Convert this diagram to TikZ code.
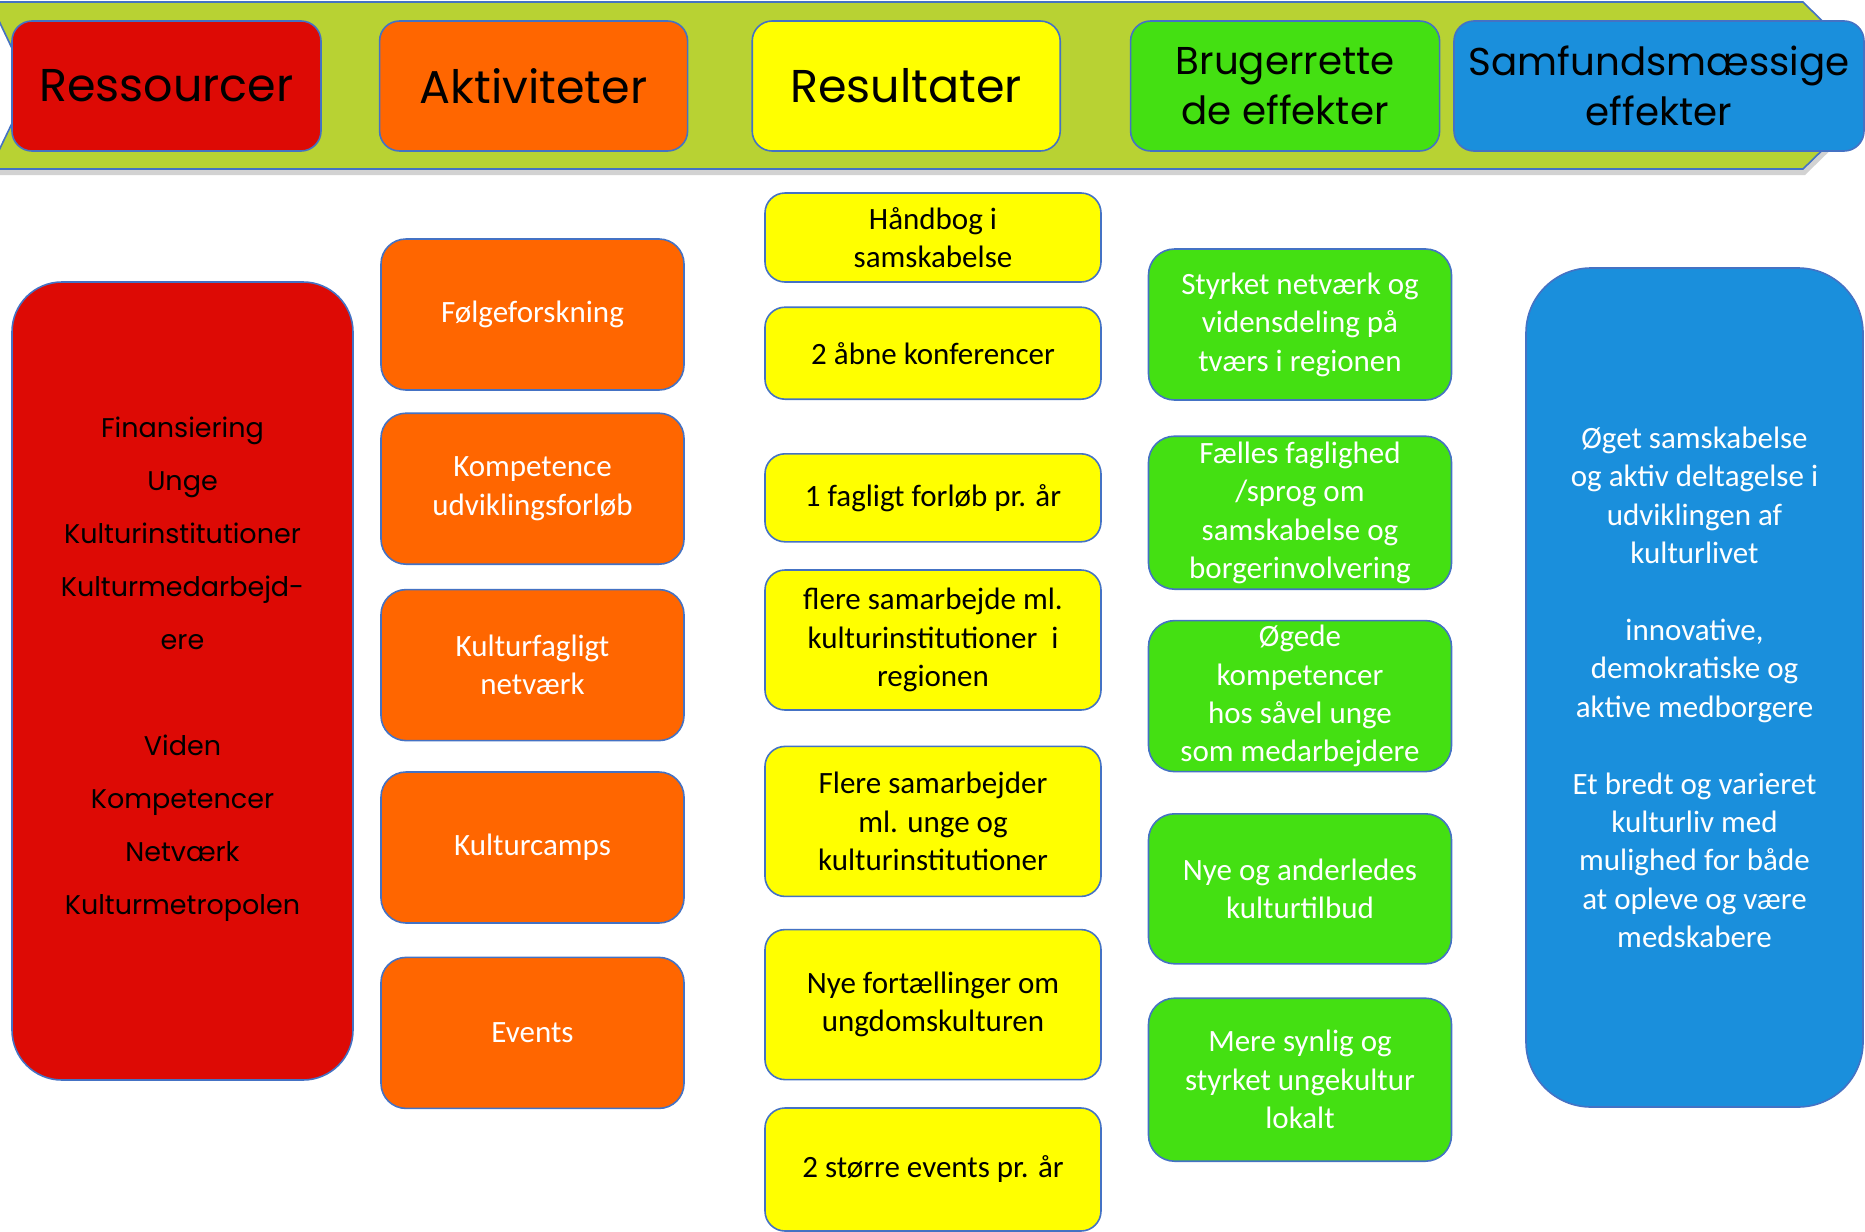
\documentclass[tikz,border=0pt]{standalone}
\usepackage{fontspec}
\setmainfont{Carlito}
\newfontfamily\gothic{Poppins}
\usetikzlibrary{positioning,shadows}

\definecolor{bannergreen}{RGB}{184,210,51}
\definecolor{resred}{RGB}{221,10,5}
\definecolor{aktorange}{RGB}{255,102,0}
\definecolor{resyellow}{RGB}{255,255,0}
\definecolor{effgreen}{RGB}{68,224,18}
\definecolor{samblue}{RGB}{26,143,220}
\definecolor{edge}{RGB}{68,114,196}

\begin{document}
\begin{tikzpicture}[x=0.5pt, y=-0.5pt,
  box/.style={rectangle, rounded corners=10pt, draw=edge, line width=0.8pt, align=center, inner sep=0pt},
  head/.style={box, minimum height=65pt, font=\gothic\fontsize{23}{27}\selectfont},
  head2/.style={head, font=\gothic\fontsize{19.4}{25}\selectfont},
  body/.style={font=\fontsize{15.5}{19.2}\selectfont},
  act/.style={box, body, fill=aktorange, text=white, rounded corners=12.5pt, minimum width=151.5pt, minimum height=75.5pt},
  res/.style={box, body, fill=resyellow, minimum width=168pt},
  eff/.style={box, body, fill=effgreen, text=white, rounded corners=13pt, minimum width=151.5pt}
]

\fill[white] (0,0) rectangle (1865,1232);
\useasboundingbox (0,0) rectangle (1865,1232);

% banner
\fill[bannergreen, draw=edge, line width=0.8pt, drop shadow={opacity=0.35, shadow xshift=1pt, shadow yshift=-3pt}]
  (-10,2) -- (1803,2) -- (1888,86) -- (1803,169) -- (-10,169) -- (30,86) -- cycle;

\node (ressourcer) [head, fill=resred, minimum width=154.5pt] at (166.5,86) {Ressourcer};
\node (aktiviteter) [head, fill=aktorange, minimum width=154pt, right=28.5pt of ressourcer] {Aktiviteter};
\node (resultater) [head, fill=resyellow, minimum width=154pt, right=31.5pt of aktiviteter] {Resultater};
\node (brugereff) [head2, fill=effgreen, minimum width=154.5pt, right=34.4pt of resultater] {Brugerrette\\de effekter};
\node (samfundeff) [head2, fill=samblue, minimum width=205pt, right=6.4pt of brugereff] {Samfundsmæssige\\effekter};

% ressourcer
\node (ressbox) [box, fill=resred, rounded corners=25pt, minimum width=170.5pt, minimum height=399pt] at (182.5,681) {};
\node (resstext) [align=center, font=\gothic\fontsize{13.5}{26.5}\selectfont] at ([yshift=6pt]ressbox.center)
  {Finansiering\\Unge\\Kulturinstitutioner\\Kulturmedarbejd-\\ere\\[26.5pt]Viden\\Kompetencer\\Netværk\\Kulturmetropolen};

% aktiviteter
\node (folge) [act] at (532.5,314.5) {Følgeforskning};
\node (kompetence) [act, below=10.8pt of folge] {Kompetence\\udviklingsforløb};
\node (kulturnet) [act, below=11.9pt of kompetence] {Kulturfagligt\\netværk};
\node (camps) [act, below=14.9pt of kulturnet] {Kulturcamps};
\node (events) [act, below=16.4pt of camps] {Events};

% resultater
\node (handbog) [res, minimum height=44.5pt] at (933,237.5) {Håndbog i\\samskabelse};
\node (konf) [res, minimum height=46pt, below=11.8pt of handbog] {2 åbne konferencer};
\node (forlob) [res, minimum height=44pt, below=26.5pt of konf] {1 fagligt forløb pr. år};
\node (samarb) [res, minimum height=70pt, below=13.3pt of forlob] {flere samarbejde ml.\\kulturinstitutioner\ \ i\\regionen};
\node (unge) [res, minimum height=75pt, below=17.4pt of samarb] {Flere samarbejder\\ml. unge og\\kulturinstitutioner};
\node (fortael) [res, minimum height=75pt, below=15.8pt of unge] {Nye fortællinger om\\ungdomskulturen};
\node (storre) [res, minimum height=61.5pt, below=13.4pt of fortael] {2 større events pr. år};

% brugerrettede effekter
\node (styrket) [eff, minimum height=75.5pt] at (1300,324.5) {Styrket netværk og\\vidensdeling på\\tværs i regionen};
\node (faelles) [eff, minimum height=76.5pt, below=17.3pt of styrket] {Fælles faglighed\\/sprog om\\samskabelse og\\borgerinvolvering};
\node (ogede) [eff, minimum height=75.5pt, below=14.9pt of faelles] {Øgede\\kompetencer\\hos såvel unge\\som medarbejdere};
\node (nye) [eff, minimum height=75pt, below=20.3pt of ogede] {Nye og anderledes\\kulturtilbud};
\node (synlig) [eff, minimum height=81.5pt, below=16.4pt of nye] {Mere synlig og\\styrket ungekultur\\lokalt};

% samfundsmaessige effekter
\node (samfbox) [box, body, fill=samblue, text=white, rounded corners=32.5pt, minimum width=168.5pt, minimum height=419.5pt] at (1694.5,687.5)
  {Øget samskabelse\\og aktiv deltagelse i\\udviklingen af\\kulturlivet\\[19.2pt]innovative,\\demokratiske og\\aktive medborgere\\[19.2pt]Et bredt og varieret\\kulturliv med\\mulighed for både\\at opleve og være\\medskabere};

\end{tikzpicture}
\end{document}
